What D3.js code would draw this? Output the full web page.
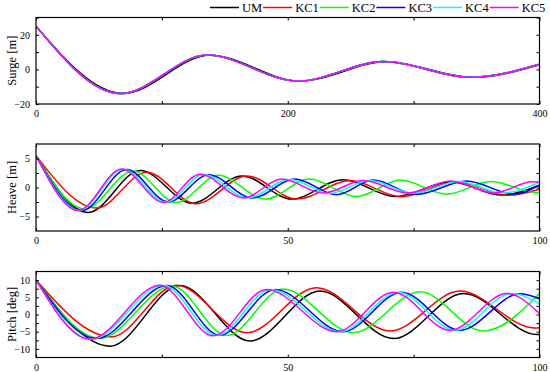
<!DOCTYPE html>
<html><head><meta charset="utf-8">
<script src="https://cdn.jsdelivr.net/npm/d3@7"></script>
<style>
body{margin:0;background:#fff;}
svg{display:block;font-family:"Liberation Serif","Times New Roman",serif;}
</style></head>
<body><svg id="c" width="550" height="372"></svg>
<script>
// ---- data (extrema points [time, value]) ----
const seriesNames = ["UM","KC1","KC2","KC3","KC4","KC5"];
const seriesColors = ["#000000","#ff0000","#00ff00","#0000ff","#00ffff","#ff00ff"];

const surgeUM  = [[0,25],[69,-13.9],[138,8.2],[210,-6.8],[278,4.4],[347,-4.6],[400,2.7]];
const surgeKC1 = [[0,25],[67,-14],[136,8.3],[208,-6.8],[276,4.5],[345,-4.6],[400,3.0]];
const surgeKC2 = [[0,25],[67,-14],[136,8.3],[208,-6.8],[276,4.5],[345,-4.6],[400,3.0]];
const surgeKC3 = [[0,25],[67,-14],[136,8.3],[208,-6.8],[276,4.5],[345,-4.6],[400,3.0]];
const surgeKC4 = [[0,25],[67,-14],[136,8.3],[208,-6.8],[276,4.5],[345,-4.6],[400,3.0]];
const surgeKC5 = [[0,25],[67,-14],[136,8.3],[208,-6.8],[276,4.5],[345,-4.6],[400,3.0]];

const heaveUM  = [[0,5.5],[10.4,-4.3],[20.7,2.95],[31.0,-2.7],[40.9,2.0],[50.8,-2.0],[61.0,1.33],[71.3,-1.55],[82.5,1.0],[92.2,-1.3],[100,0.4]];
const heaveKC1 = [[0,5.5],[12.1,-3.55],[22.0,2.65],[31.8,-2.8],[41.9,2.0],[51.8,-2.0],[62.4,1.2],[72.5,-1.6],[83.5,1.0],[93.8,-1.35],[100,-0.3]];
const heaveKC2 = [[0,5.5],[9.7,-3.7],[19.3,2.85],[27.8,-2.6],[36.3,2.1],[45.5,-2.0],[54.3,1.45],[63.7,-1.55],[72.4,1.3],[81.6,-1.15],[90.3,1.03],[99.6,-0.9],[100,-0.9]];
const heaveKC3 = [[0,5.5],[9.1,-4.0],[18.0,3.1],[26.3,-2.5],[34.3,2.2],[43.0,-1.8],[51.4,1.45],[59.7,-1.26],[67.0,1.3],[75.5,-1.2],[85.5,1.1],[95.0,-1.15],[100,0.4]];
const heaveKC4 = [[0,5.5],[8.6,-3.95],[17.3,3.15],[25.8,-2.55],[33.3,2.25],[42.0,-1.8],[50.4,1.4],[58.4,-1.0],[66.3,1.2],[75.0,-1.0],[84.0,1.05],[92.6,-0.95],[100,0.9]];
const heaveKC5 = [[0,5.5],[8.4,-3.96],[17.0,3.17],[25.3,-2.58],[32.6,2.3],[41.2,-1.8],[48.8,1.45],[57.1,-0.95],[65.0,1.2],[73.9,-0.95],[82.3,1.1],[91.0,-0.95],[98.5,1.0],[100,0.95]];

const pitchUM  = [[0,10],[14.7,-9.2],[28.6,8.4],[42.5,-7.7],[56.4,6.8],[71.0,-7.0],[84.9,6.1],[99.5,-5.8],[100,-5.8]];
const pitchKC1 = [[0,10],[15.0,-6.5],[27.9,8.5],[41.9,-5.3],[55.7,7.8],[70.3,-4.8],[84.2,6.8],[99.0,-3.9],[100,-3.85]];
const pitchKC2 = [[0,10],[12.7,-6.9],[27.0,8.3],[37.9,-6.1],[49.1,7.4],[63.0,-5.3],[76.3,6.6],[88.8,-4.8],[100,6.1]];
const pitchKC3 = [[0,10],[12.1,-7.0],[26.0,8.4],[36.5,-6.0],[47.5,7.3],[61.0,-5.0],[72.6,6.5],[84.2,-4.6],[96.1,6.0],[100,4.6]];
const pitchKC4 = [[0,10],[11.0,-7.2],[25.3,8.5],[35.9,-6.1],[46.6,7.3],[60.4,-5.0],[72.0,6.5],[83.2,-4.6],[94.5,6.1],[100,3.0]];
const pitchKC5 = [[0,10],[10.7,-7.2],[24.6,8.5],[35.2,-6.2],[45.8,7.3],[59.7,-5.0],[71.0,6.5],[82.2,-4.6],[93.5,6.1],[100,0.3]];

const surgeXTicks = [0,100,200,300,400], surgeXLabels = [0,200,400];
const surgeYTicks = [-20,-10,0,10,20,30], surgeYLabels = [-20,0,20];
const shortXTicks = [0,25,50,75,100], shortXLabels = [0,50,100];
const heaveYTicks = [-5,-2.5,0,2.5,5], heaveYLabels = [-5,0,5];
const pitchYTicks = [-10,-7.5,-5,-2.5,0,2.5,5,7.5,10], pitchYLabels = [-10,-5,0,5,10];

const panels = [
  {label:"Surge [m]", xDomain:[0,400], yDomain:[-20,30], top:17.5, h:86.5,
   data:[surgeUM,surgeKC1,surgeKC2,surgeKC3,surgeKC4,surgeKC5],
   xt:surgeXTicks, xl:surgeXLabels, yt:surgeYTicks, yl:surgeYLabels},
  {label:"Heave [m]", xDomain:[0,100], yDomain:[-7.5,7.5], top:144, h:87,
   data:[heaveUM,heaveKC1,heaveKC2,heaveKC3,heaveKC4,heaveKC5],
   xt:shortXTicks, xl:shortXLabels, yt:heaveYTicks, yl:heaveYLabels},
  {label:"Pitch [deg]", xDomain:[0,100], yDomain:[-12.5,12.5], top:271.5, h:86,
   data:[pitchUM,pitchKC1,pitchKC2,pitchKC3,pitchKC4,pitchKC5],
   xt:shortXTicks, xl:shortXLabels, yt:pitchYTicks, yl:pitchYLabels}
];

const svg = d3.select("#c");
const L = 36, R = 539.5;
const fmt = d3.format("");

panels.forEach((p,i)=>{
  const x = d3.scaleLinear().domain(p.xDomain).range([L,R]);
  const y = d3.scaleLinear().domain(p.yDomain).range([p.top+p.h,p.top]);
  const g = svg.append("g");
  const cid = "clip"+i;
  svg.append("clipPath").attr("id",cid).append("rect")
    .attr("x",L).attr("y",p.top).attr("width",R-L).attr("height",p.h);

  const line = d3.line().x(d=>x(d[0])).y(d=>y(d[1])).curve(d3.curveMonotoneX);
  const lg = g.append("g").attr("clip-path",`url(#${cid})`);
  p.data.forEach((s,k)=>{
    lg.append("path").attr("d",line(s)).attr("fill","none")
      .attr("stroke",seriesColors[k]).attr("stroke-width",1.5);
  });

  const lab = (list)=> (v=> list.includes(v) ? fmt(v) : "");
  const ax = [
    d3.axisBottom(x).tickValues(p.xt).tickSize(-3).tickPadding(6).tickFormat(lab(p.xl)),
    d3.axisTop(x).tickValues(p.xt).tickSize(-3).tickFormat(()=>""),
    d3.axisLeft(y).tickValues(p.yt).tickSize(-3).tickPadding(6).tickFormat(lab(p.yl)),
    d3.axisRight(y).tickValues(p.yt).tickSize(-3).tickFormat(()=>"")
  ];
  const tr = [`translate(0,${p.top+p.h})`,`translate(0,${p.top})`,`translate(${L},0)`,`translate(${R},0)`];
  ax.forEach((a,j)=>{
    const ag = g.append("g").attr("transform",tr[j]).call(a);
    ag.select(".domain").remove();
    ag.selectAll("line").attr("stroke","#000").attr("stroke-width",1);
    ag.selectAll("text").attr("font-size",10).attr("fill","#000")
      .attr("font-family","Liberation Serif, Times New Roman, serif");
  });
  g.append("rect").attr("x",L).attr("y",p.top).attr("width",R-L).attr("height",p.h)
    .attr("fill","none").attr("stroke","#000").attr("stroke-width",1.2);

  g.append("text").attr("transform",`translate(12,${p.top+p.h/2}) rotate(-90)`)
    .attr("text-anchor","middle").attr("dominant-baseline","central")
    .attr("font-size",12.5).text(p.label);
});

// legend
const leg = svg.append("g");
let lx = 210;
seriesNames.forEach((n,k)=>{
  leg.append("line").attr("x1",lx).attr("x2",lx+29).attr("y1",7.5).attr("y2",7.5)
    .attr("stroke",seriesColors[k]).attr("stroke-width",1.5);
  const t = leg.append("text").attr("x",lx+32).attr("y",12).attr("font-size",12.5).text(n);
  lx = lx + 32 + t.node().getComputedTextLength() + 1;
});
</script></body></html>
